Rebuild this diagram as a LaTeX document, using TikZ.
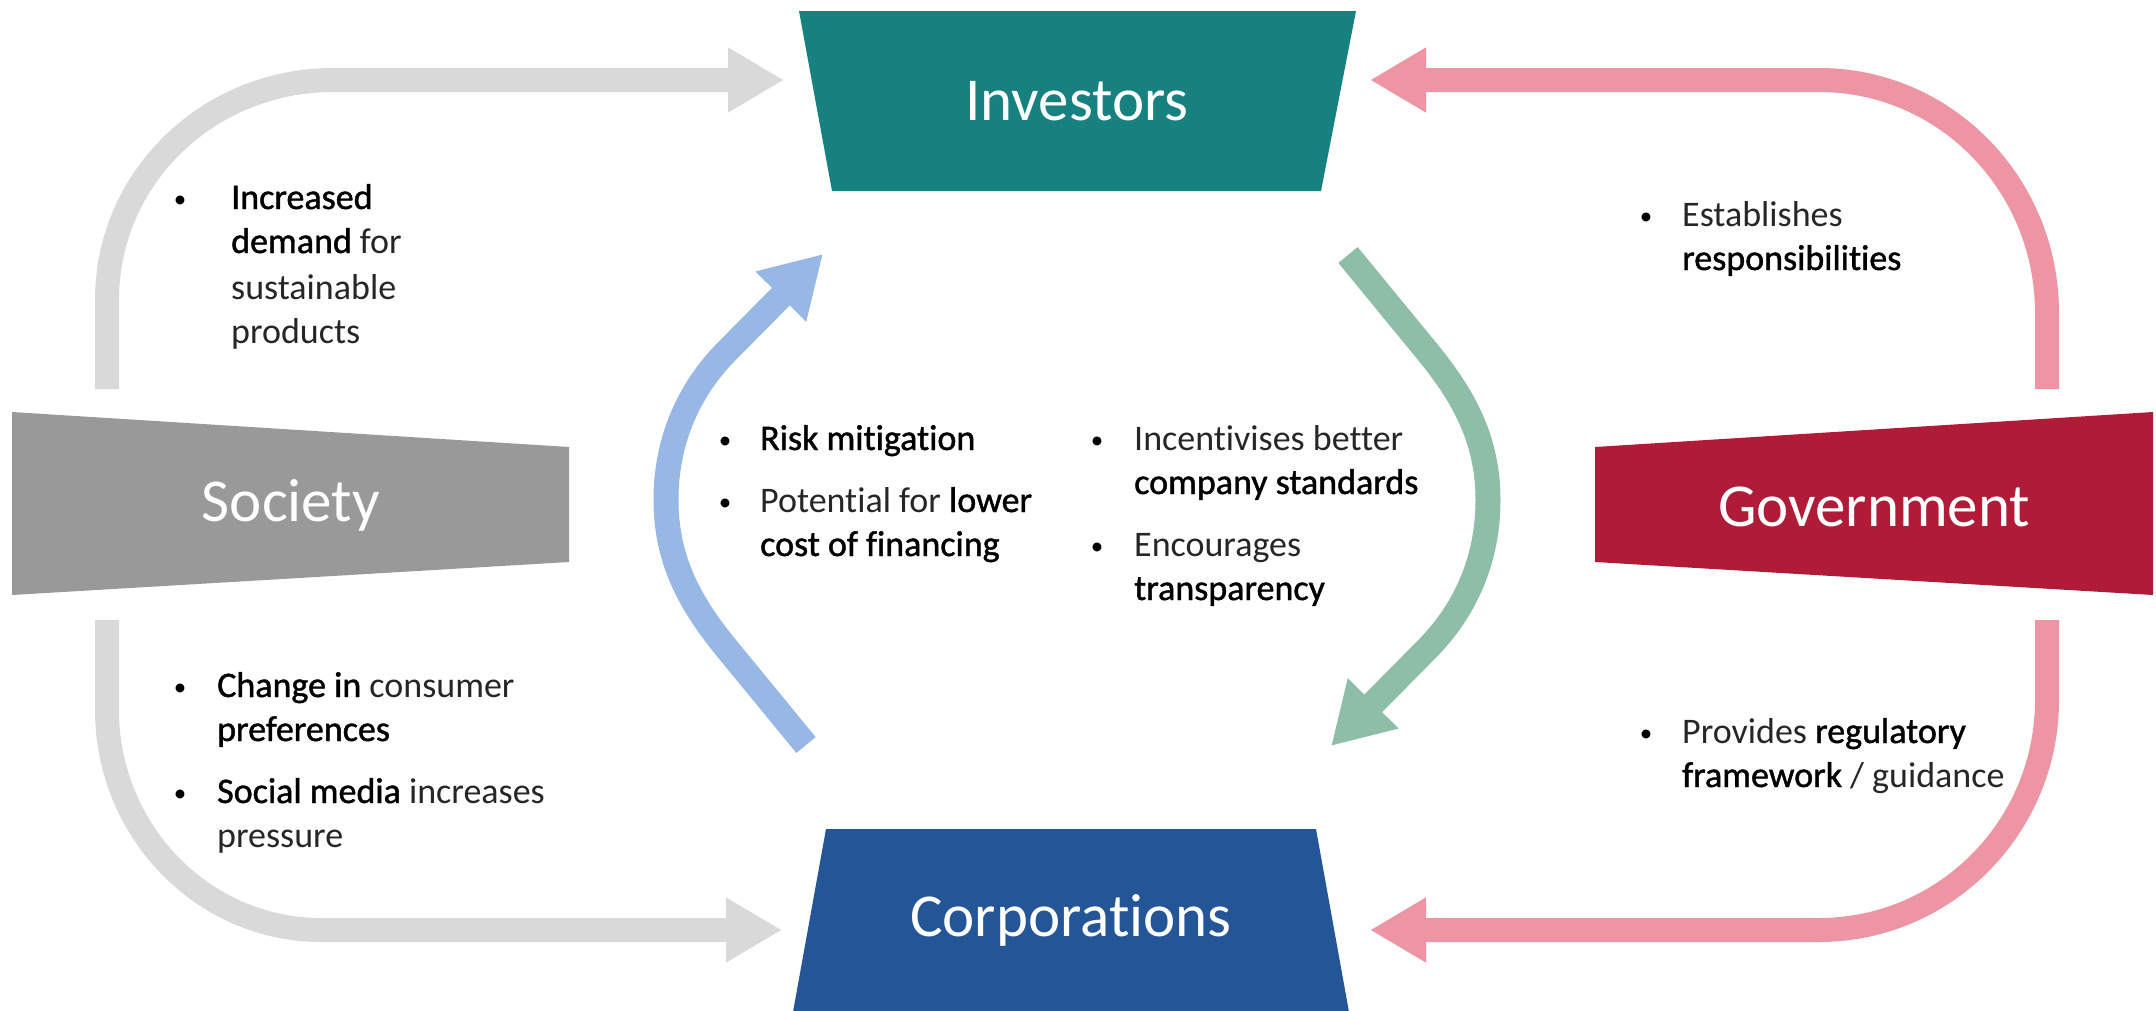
\documentclass[tikz,border=0pt]{standalone}
\usepackage{fontspec}
\setmainfont{Carlito}[Ligatures=NoCommon]
\newfontfamily\ltf[Ligatures=NoCommon]{Carlito}
\newfontfamily\bdf[FakeBold=1.2,Ligatures=NoCommon]{Carlito}
\usetikzlibrary{arrows.meta}
\newcommand\sx[1]{{\bdf\color{black}#1}}
\definecolor{cTeal}{HTML}{16817F}
\definecolor{cBlue}{HTML}{235597}
\definecolor{cGrey}{HTML}{999999}
\definecolor{cRed}{HTML}{B01C37}
\definecolor{aGrey}{HTML}{D9D9D9}
\definecolor{aPink}{HTML}{EE95A3}
\definecolor{aBlue}{HTML}{97B7E5}
\definecolor{aGreen}{HTML}{8FBEA8}
\tikzset{
  txt/.style={anchor=base west, inner sep=0pt, font=\fontsize{36}{44}\selectfont\ltf, text=black!85},
  bul/.style={anchor=base, inner sep=0pt, yshift=2pt, font=\fontsize{25}{30}\selectfont\ltf, text=black},
  title/.style={inner sep=0pt, text=white, font=\fontsize{61}{70}\selectfont\ltf},
  fat/.style={line width=24pt, -{Triangle[length=56pt,width=61pt]}},
  cyc/.style={line width=25pt, -{Triangle[length=60pt,width=67pt]}}
}
\begin{document}
\begin{tikzpicture}[x=1pt,y=-1pt]
\useasboundingbox (0,0) rectangle (2156,1010);
% boxes
\fill[cTeal] (799,11) -- (1356,11) -- (1321,191) -- (832,191) -- cycle;
\fill[cBlue] (826,829) -- (1316,829) -- (1349,1012) -- (793,1012) -- cycle;
\fill[cGrey] (12,412) -- (569,447) -- (569,562) -- (12,595) -- cycle;
\fill[cRed] (1595,447) -- (2153,412) -- (2153,595) -- (1595,562) -- cycle;
\node[title] (inv) at (1077,101) {Investors};
\node[title] (cor) at (1071,920) {Corporations};
\node[title] (soc) at (291,505) {Society};
\node[title] (gov) at (1874,507) {Government};
% arrow end points
\coordinate (sTop) at (107,389);
\coordinate (sTopTip) at (784,80);
\coordinate (sBot) at (107,620);
\coordinate (sBotTip) at (782,930);
\coordinate (gTop) at (2047,389);
\coordinate (gTopTip) at (1370,80);
\coordinate (gBot) at (2047,620);
\coordinate (gBotTip) at (1370,930);
\coordinate (bTail) at (806,745);
\coordinate (bTip) at (823,254);
\coordinate (eTail) at (1348,255);
\coordinate (eTip) at (1331,746);
% grey arrows
\draw[fat, aGrey] (sTop) -- (107,300) .. controls (107,178) and (208,80) .. (333,80) -- (sTopTip);
\draw[fat, aGrey] (sBot) -- (107,710) .. controls (107,831) and (203,930) .. (321,930) -- (sBotTip);
% pink arrows
\draw[fat, aPink] (gTop) -- (2047,313) .. controls (2047,184) and (1945,80) .. (1819,80) -- (gTopTip);
\draw[fat, aPink] (gBot) -- (2047,700) .. controls (2047,827) and (1945,930) .. (1819,930) -- (gBotTip);
% inner cycle arrows
\draw[cyc, aBlue] (bTail) -- (728,650) .. controls (690,604) and (666,560) .. (666,500) .. controls (666,440) and (689,389) .. (728,350) -- (bTip);
\draw[cyc, aGreen] (eTail) -- (1426,350) .. controls (1464,396) and (1488,440) .. (1488,500) .. controls (1488,560) and (1465,611) .. (1426,650) -- (eTip);
% top-left text
\node[bul] (b1) at (180,209) {•};
\node[txt] (t1a) at (231,209) {\sx{Increased}};
\node[txt] (t1b) at (231,253) {\sx{demand} for};
\node[txt] (t1c) at (231,299) {sustainable};
\node[txt] (t1d) at (231,343) {products};
% bottom-left text
\node[bul] (b2) at (180,697) {•};
\node[bul] (b3) at (180,803) {•};
\node[txt] (t2a) at (217,697) {\sx{Change in} consumer};
\node[txt] (t2b) at (217,741) {\sx{preferences}};
\node[txt] (t3a) at (217,803) {\sx{Social media} increases};
\node[txt] (t3b) at (217,847) {pressure};
% centre-left text
\node[bul] (b4) at (725,450) {•};
\node[bul] (b5) at (725,512) {•};
\node[txt] (t4a) at (760,450) {\sx{Risk mitigation}};
\node[txt] (t5a) at (760,512) {Potential for \sx{lower}};
\node[txt] (t5b) at (760,556) {\sx{cost of financing}};
% centre-right text
\node[bul] (b6) at (1097,450) {•};
\node[bul] (b7) at (1097,556) {•};
\node[txt] (t6a) at (1134,450) {Incentivises better};
\node[txt] (t6b) at (1134,494) {\sx{company standards}};
\node[txt] (t7a) at (1134,556) {Encourages};
\node[txt] (t7b) at (1134,600) {\sx{transparency}};
% top-right text
\node[bul] (b8) at (1646,226) {•};
\node[txt] (t8a) at (1682,226) {Establishes};
\node[txt] (t8b) at (1682,270) {\sx{responsibilities}};
% bottom-right text
\node[bul] (b9) at (1646,743) {•};
\node[txt] (t9a) at (1682,743) {Provides \sx{regulatory}};
\node[txt] (t9b) at (1682,787) {\sx{framework} / guidance};
\end{tikzpicture}
\end{document}
